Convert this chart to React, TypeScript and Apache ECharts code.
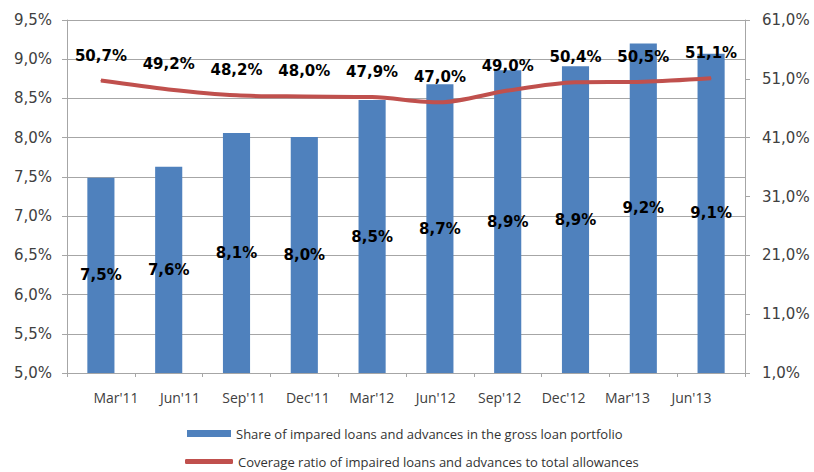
import React, { useEffect, useRef } from "react";
import * as echarts from "echarts";

const categories = ["Mar'11", "Jun'11", "Sep'11", "Dec'11", "Mar'12", "Jun'12", "Sep'12", "Dec'12", "Mar'13", "Jun'13"];
const shareImpaired = [7.49, 7.63, 8.06, 8.01, 8.48, 8.68, 8.86, 8.91, 9.2, 9.07];
const coverageRatio = [50.7, 49.2, 48.2, 48.0, 47.9, 47.0, 49.0, 50.4, 50.5, 51.1];
const barName = "Share of impared loans and advances in the gross loan portfolio";
const lineName = "Coverage ratio of impaired loans and advances to total allowances";

const pct = (v: number) => v.toFixed(1).replace(".", ",") + "%";

export default function App() {
  const ref = useRef<HTMLDivElement>(null);
  useEffect(() => {
    if (!ref.current) return;
    const chart = echarts.init(ref.current, undefined, { renderer: "svg" });
    const gray = "#A6A6A6";
    const legendText = { fontFamily: "Open Sans", fontSize: 13, lineHeight: 15, color: "#333333" };
    chart.setOption({
      animation: false,
      backgroundColor: "#ffffff",
      grid: [
        { left: 67, right: 69, top: 20, bottom: 99 },
        { left: 84, width: 639.4, top: 20, bottom: 99 },
      ],
      legend: [
        {
          left: 185,
          top: 424,
          padding: 2,
          itemWidth: 44,
          itemHeight: 7,
          itemGap: 5,
          textStyle: legendText,
          data: [{ name: barName, icon: "rect" }],
        },
        {
          left: 183,
          top: 452,
          padding: 2,
          itemWidth: 48,
          itemHeight: 5,
          itemGap: 5,
          textStyle: legendText,
          data: [{ name: lineName, icon: "roundRect" }],
        },
      ],
      xAxis: [
        {
          type: "category",
          data: categories,
          gridIndex: 0,
          axisLine: { lineStyle: { color: gray } },
          axisTick: { show: true, length: 4, lineStyle: { color: gray } },
          axisLabel: { show: false },
        },
        {
          type: "category",
          data: categories,
          gridIndex: 1,
          axisLine: { show: false },
          axisTick: { show: false },
          axisLabel: { margin: 17, fontFamily: "Open Sans", fontSize: 14, color: "#404040" },
        },
      ],
      yAxis: [
        {
          type: "value",
          gridIndex: 0,
          min: 5,
          max: 9.5,
          interval: 0.5,
          axisLine: { show: true, lineStyle: { color: gray } },
          axisTick: { show: true, length: 5, lineStyle: { color: gray } },
          splitLine: { show: true, lineStyle: { color: gray } },
          axisLabel: { margin: 15, fontFamily: "DejaVu Sans", fontSize: 15, color: "#404040", formatter: (v: number) => pct(v) },
        },
        {
          type: "value",
          gridIndex: 0,
          position: "right",
          min: 1,
          max: 61,
          interval: 10,
          axisLine: { show: true, lineStyle: { color: gray } },
          axisTick: { show: true, length: 5, lineStyle: { color: gray } },
          splitLine: { show: false },
          axisLabel: { margin: 17, fontFamily: "DejaVu Sans", fontSize: 15, color: "#404040", formatter: (v: number) => pct(v) },
        },
        { type: "value", gridIndex: 1, show: false, min: 0, max: 1 },
      ],
      series: [
        {
          name: barName,
          type: "bar",
          xAxisIndex: 0,
          yAxisIndex: 0,
          data: shareImpaired,
          barWidth: "40%",
          itemStyle: { color: "#4F81BD" },
          label: {
            show: true,
            position: "inside",
            fontFamily: "DejaVu Sans",
            fontWeight: "bold",
            fontSize: 15,
            color: "#000000",
            formatter: (p: any) => pct(p.value),
          },
          z: 2,
        },
        {
          name: lineName,
          type: "line",
          xAxisIndex: 0,
          yAxisIndex: 1,
          data: coverageRatio,
          smooth: 0.3,
          symbol: "circle",
          symbolSize: 1,
          showSymbol: true,
          lineStyle: { color: "#C0504D", width: 4 },
          itemStyle: { color: "#C0504D" },
          label: {
            show: true,
            position: "top",
            distance: 17,
            fontFamily: "DejaVu Sans",
            fontWeight: "bold",
            fontSize: 15,
            color: "#000000",
            formatter: (p: any) => pct(p.value),
          },
          z: 3,
        },
      ],
    });
    return () => chart.dispose();
  }, []);
  return <div ref={ref} style={{ width: 814, height: 472, position: "absolute", left: 0, top: 0 }} />;
}
